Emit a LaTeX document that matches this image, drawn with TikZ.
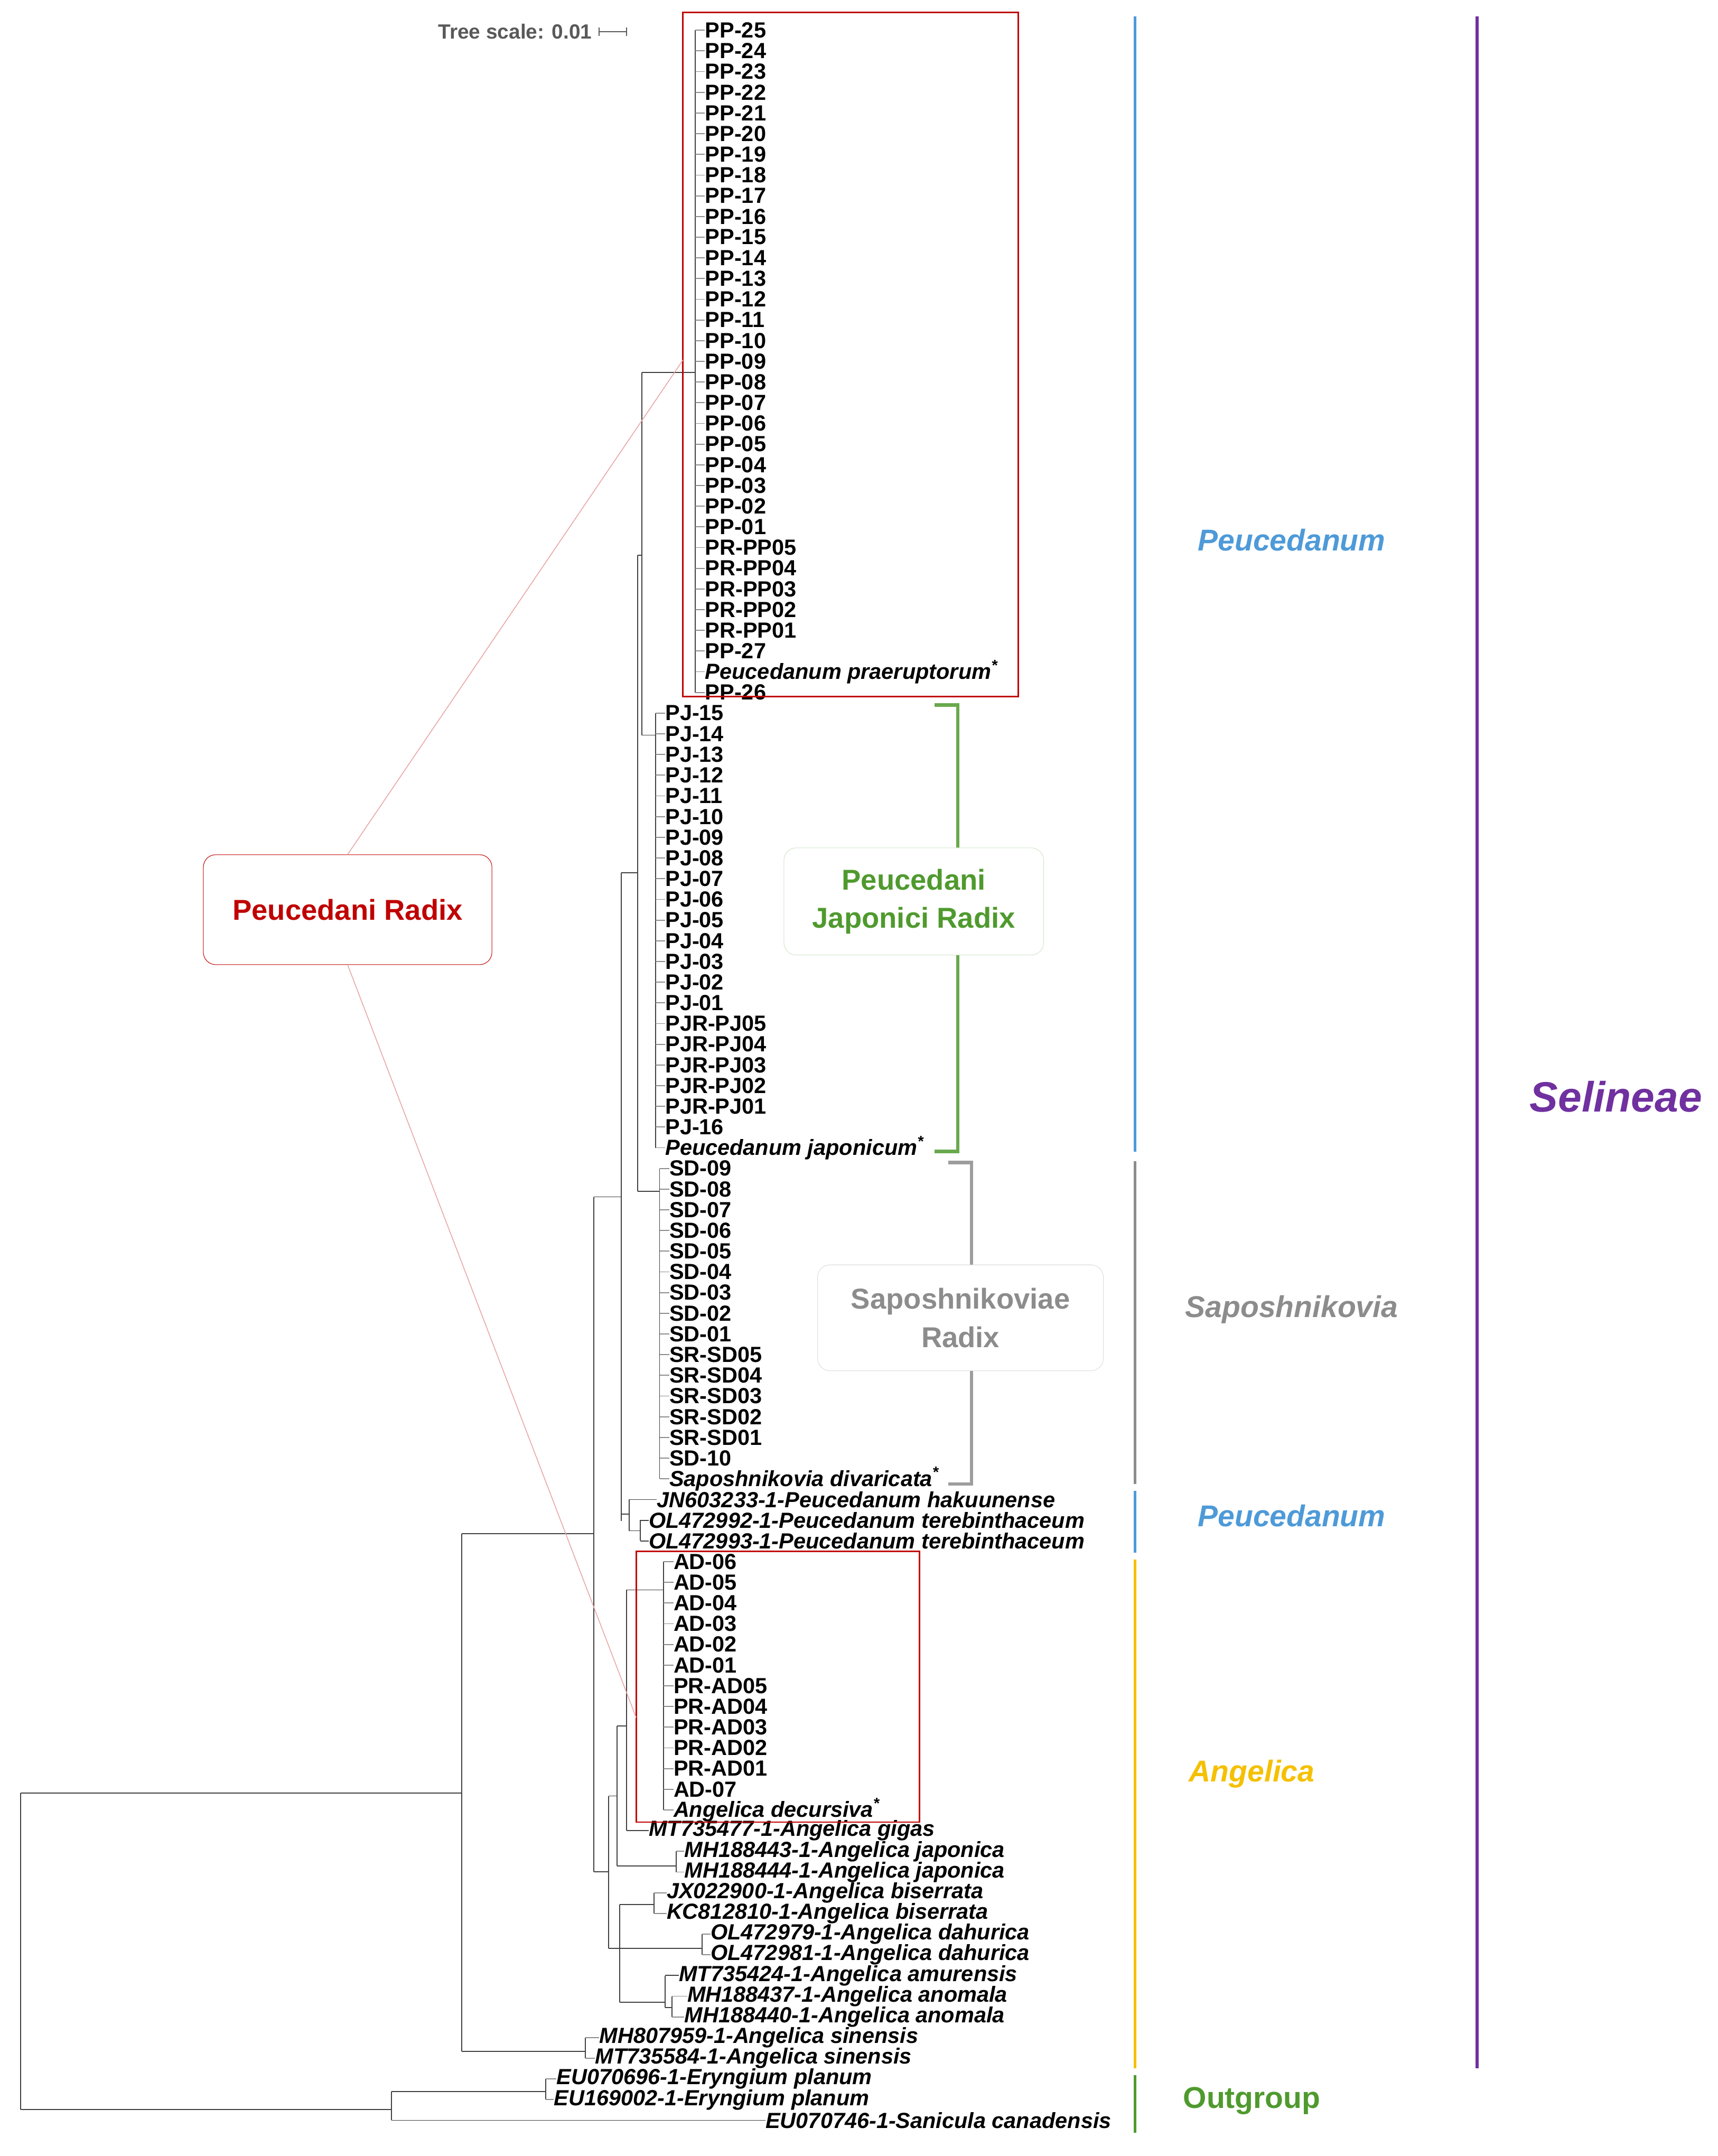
\documentclass[tikz,border=0pt]{standalone}
\usepackage{fontspec}
\setmainfont{Liberation Sans}
\begin{document}
\begin{tikzpicture}[x=1bp,y=-1bp,
  br/.style={draw=black!75,line width=0.7bp},
  lf/.style={anchor=west,inner sep=0pt,font=\fontsize{16}{16}\selectfont\bfseries},
  clab/.style={font=\fontsize{22}{24}\selectfont\bfseries\itshape},
  vbar/.style={line width=2.2bp},
  box/.style={draw,rounded corners=9bp,fill=white,align=center,font=\fontsize{21}{28}\selectfont\bfseries}]
\definecolor{cb}{HTML}{4E9AD8}\definecolor{cg}{HTML}{8C8C8C}\definecolor{cy}{HTML}{F5C000}
\definecolor{cgr}{HTML}{4F9A2E}\definecolor{cp}{HTML}{7030A0}\definecolor{cr}{HTML}{C00000}
\fill[white] (0,0) rectangle (1250,1569);
\useasboundingbox (0,0) rectangle (1250,1569);
% leaves
\foreach \i/\x/\t in {0/513/PP-25,1/513/PP-24,2/513/PP-23,3/513/PP-22,4/513/PP-21,5/513/PP-20,6/513/PP-19,7/513/PP-18,8/513/PP-17,9/513/PP-16,10/513/PP-15,11/513/PP-14,12/513/PP-13,13/513/PP-12,14/513/PP-11,15/513/PP-10,16/513/PP-09,17/513/PP-08,18/513/PP-07,19/513/PP-06,20/513/PP-05,21/513/PP-04,22/513/PP-03,23/513/PP-02,24/513/PP-01,25/513/PR-PP05,26/513/PR-PP04,27/513/PR-PP03,28/513/PR-PP02,29/513/PR-PP01,30/513/PP-27,32/513/PP-26,
33/484/PJ-15,34/484/PJ-14,35/484/PJ-13,36/484/PJ-12,37/484/PJ-11,38/484/PJ-10,39/484/PJ-09,40/484/PJ-08,41/484/PJ-07,42/484/PJ-06,43/484/PJ-05,44/484/PJ-04,45/484/PJ-03,46/484/PJ-02,47/484/PJ-01,48/484/PJR-PJ05,49/484/PJR-PJ04,50/484/PJR-PJ03,51/484/PJR-PJ02,52/484/PJR-PJ01,53/484/PJ-16,
55/487/SD-09,56/487/SD-08,57/487/SD-07,58/487/SD-06,59/487/SD-05,60/487/SD-04,61/487/SD-03,62/487/SD-02,63/487/SD-01,64/487/SR-SD05,65/487/SR-SD04,66/487/SR-SD03,67/487/SR-SD02,68/487/SR-SD01,69/487/SD-10,
74/490/AD-06,75/490/AD-05,76/490/AD-04,77/490/AD-03,78/490/AD-02,79/490/AD-01,80/490/PR-AD05,81/490/PR-AD04,82/490/PR-AD03,83/490/PR-AD02,84/490/PR-AD01,85/490/AD-07}
  \node[lf] (L\i) at (\x,{22+15.06*\i}) {\t};
\foreach \i/\x/\t in {31/513/Peucedanum praeruptorum\textsuperscript{*},54/484/Peucedanum japonicum\textsuperscript{*},70/487/Saposhnikovia divaricata\textsuperscript{*},71/478/JN603233-1-Peucedanum hakuunense,72/472/OL472992-1-Peucedanum terebinthaceum,73/472/OL472993-1-Peucedanum terebinthaceum,86/490/Angelica decursiva\textsuperscript{*},87/472/MT735477-1-Angelica gigas,88/498/MH188443-1-Angelica japonica,89/498/MH188444-1-Angelica japonica,90/485/JX022900-1-Angelica biserrata,91/485/KC812810-1-Angelica biserrata,92/517/OL472979-1-Angelica dahurica,93/517/OL472981-1-Angelica dahurica,94/494/MT735424-1-Angelica amurensis,95/500/MH188437-1-Angelica anomala,96/498/MH188440-1-Angelica anomala,97/436/MH807959-1-Angelica sinensis,98/433/MT735584-1-Angelica sinensis,99/405/EU070696-1-Eryngium planum,100/403/EU169002-1-Eryngium planum,101/557/EU070746-1-Sanicula canadensis}
  \node[lf,font=\fontsize{16}{16}\selectfont\bfseries\itshape] (L\i) at (\x,{22+15.06*\i}) {\t};
% leaf ticks
\foreach \a/\b/\x in {0/32/506,33/54/477,55/70/480,74/86/483,88/89/492,90/91/476,92/93/511,95/96/489,97/98/426,99/100/397}{
  \draw[br] (\x,{22+15.06*\a}) -- (\x,{22+15.06*\b});
  \foreach \i in {\a,...,\b} \draw[br,draw=black!45] (L\i.west -| \x,0) -- (L\i.west);
}
\foreach \i/\x in {71/458,72/466,73/466,87/456,94/484,101/285}
  \draw[br] (L\i.west -| \x,0) -- (L\i.west);
% internal structure
\draw[br] (467,271) -- (467,535) (467,271) -- (506,271) (467,535) -- (477,535);
\draw[br] (464,404) -- (464,867) (464,404) -- (467,404) (464,867) -- (480,867);
\draw[br] (452,635) -- (452,1107) (452,635) -- (464,635) (452,1102) -- (458,1102);
\draw[br] (458,1091) -- (458,1114) -- (466,1114) (466,1106) -- (466,1121);
\draw[br] (432,871) -- (432,1362) (432,871) -- (452,871) (432,1362) -- (443,1362);
\draw[br] (443,1307) -- (443,1418) (443,1307) -- (449,1307) (443,1418) -- (451,1418);
\draw[br] (449,1256) -- (449,1358) (449,1256) -- (456,1256) (449,1358) -- (492,1358);
\draw[br] (456,1157) -- (456,1332) (456,1157) -- (483,1157);
\draw[br] (451,1386) -- (451,1457) (451,1386) -- (476,1386) (451,1418) -- (511,1418) (451,1457) -- (484,1457);
\draw[br] (484,1438) -- (484,1461) (484,1461) -- (489,1461);
\draw[br] (15,1305) -- (15,1535) (15,1305) -- (336,1305) (15,1535) -- (285,1535);
\draw[br] (336,1116) -- (336,1493) (336,1116) -- (432,1116) (336,1493) -- (426,1493);
\draw[br] (285,1522) -- (285,1543) (285,1522) -- (397,1522);
% tree scale
\node[anchor=east,inner sep=0pt,text=black!65,font=\fontsize{15}{15}\selectfont\bfseries] (ts) at (431,23) {Tree scale: 0.01};
\draw[black!65,line width=1bp] (436,23) -- (456,23) (436,20) -- (436,26) (456,20) -- (456,26);
% red boxes and zoom lines
\draw[cr,line width=1.1bp] (497,9) rectangle (741,507);
\draw[cr,line width=1.1bp] (463,1129) rectangle (669,1326);
\node[box,draw=cr,text=cr,minimum width=210bp,minimum height=80bp] (pr) at (253,662) {Peucedani Radix};
\draw[cr!35,line width=0.6bp] (pr.north) -- (497,262);
\draw[cr!35,line width=0.6bp] (pr.south) -- (463,1250);
% brackets
\draw[cgr!85,line width=2.5bp] (680,513) -- (697,513) -- (697,838) -- (680,838);
\node[box,draw=cgr!25,text=cgr,minimum width=189bp,minimum height=78bp] (pj) at (665,656) {Peucedani\\Japonici Radix};
\draw[cg!85,line width=2.5bp] (690,846) -- (707,846) -- (707,1080) -- (690,1080);
\node[box,draw=cg!30,text=cg,minimum width=208bp,minimum height=77bp] (sr) at (699,959) {Saposhnikoviae\\Radix};
% right bars
\draw[cb,vbar] (826,12) -- (826,838);
\draw[cg,vbar] (826,845) -- (826,1080);
\draw[cb,vbar] (826,1085) -- (826,1130);
\draw[cy,vbar] (826,1135) -- (826,1505);
\draw[cgr,vbar] (826,1510) -- (826,1552);
\draw[cp,vbar] (1075,12) -- (1075,1505);
\node[clab,text=cb] (g1) at (940,393) {Peucedanum};
\node[clab,text=cg] (g2) at (940,953) {Saposhnikovia};
\node[clab,text=cb] (g3) at (940,1103) {Peucedanum};
\node[clab,text=cy] (g4) at (911,1291) {Angelica};
\node[font=\fontsize{22}{24}\selectfont\bfseries,text=cgr] (g5) at (911,1529) {Outgroup};
\node[font=\fontsize{31}{33}\selectfont\bfseries\itshape,text=cp] (g6) at (1176,798) {Selineae};
\end{tikzpicture}
\end{document}
